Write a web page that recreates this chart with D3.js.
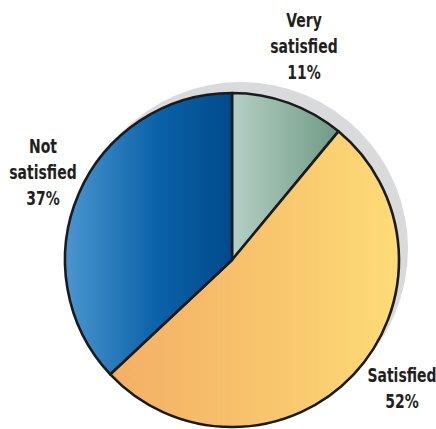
<!DOCTYPE html>
<html>
<head>
<meta charset="utf-8">
<script src="https://cdn.jsdelivr.net/npm/d3@7"></script>
<style>
  html, body { margin: 0; padding: 0; background: #ffffff; }
  svg { display: block; }
  .lbl { font-family: "DejaVu Sans", sans-serif; font-weight: bold; fill: #231f20; }
</style>
</head>
<body>
<svg id="chart" width="436" height="429"></svg>
<script>
// Survey shares, clockwise from 12 o'clock
const categories = ["Very satisfied", "Satisfied", "Not satisfied"];
const shares = [11, 52, 37];
const labelLines = [["Very", "satisfied", "11%"], ["Satisfied", "52%"], ["Not", "satisfied", "37%"]];

// Horizontal gradient stops for each slice (left -> right)
const sliceGradients = [
  [["0%", "#b3d0c4"], ["100%", "#709a85"]],
  [["0%", "#f4af65"], ["55%", "#f8c56d"], ["100%", "#fedc77"]],
  [["0%", "#4a96d0"], ["55%", "#0b62a8"], ["100%", "#004a8b"]]
];

// Where each label block sits (x centre, first baseline)
const labelAnchors = [[304, 27], [402, 382], [43, 153]];

const cx = 232, cy = 260, r = 167;
const svg = d3.select("#chart");
const defs = svg.append("defs");

sliceGradients.forEach((stops, i) => {
  const g = defs.append("linearGradient")
    .attr("id", "grad" + i)
    .attr("x1", 0).attr("y1", 0).attr("x2", 1).attr("y2", 0);
  stops.forEach(([off, col]) => g.append("stop").attr("offset", off).attr("stop-color", col));
});

// Drop shadow disc, offset up and to the right
svg.append("circle")
  .attr("cx", cx + 9).attr("cy", cy - 11).attr("r", r)
  .attr("fill", "#d9dadc");

const pie = d3.pie().sort(null).value(d => d)(shares);
const arc = d3.arc().innerRadius(0).outerRadius(r);

const g = svg.append("g").attr("transform", `translate(${cx},${cy})`);
g.selectAll("path.slice")
  .data(pie)
  .join("path")
  .attr("class", "slice")
  .attr("d", arc)
  .attr("fill", (d, i) => `url(#grad${i})`)
  .attr("stroke", "#1b1b1d")
  .attr("stroke-width", 2.6)
  .attr("stroke-linejoin", "round");

// Labels, horizontally condensed
const lineGap = 26;
labelLines.forEach((lines, i) => {
  const [x, y0] = labelAnchors[i];
  const t = svg.append("text")
    .attr("class", "lbl")
    .attr("text-anchor", "middle")
    .attr("font-size", 20)
    .attr("transform", `translate(${x},0) scale(0.7,1)`);
  lines.forEach((ln, j) => {
    t.append("tspan").attr("x", 0).attr("y", y0 + j * lineGap).text(ln);
  });
});
</script>
</body>
</html>
